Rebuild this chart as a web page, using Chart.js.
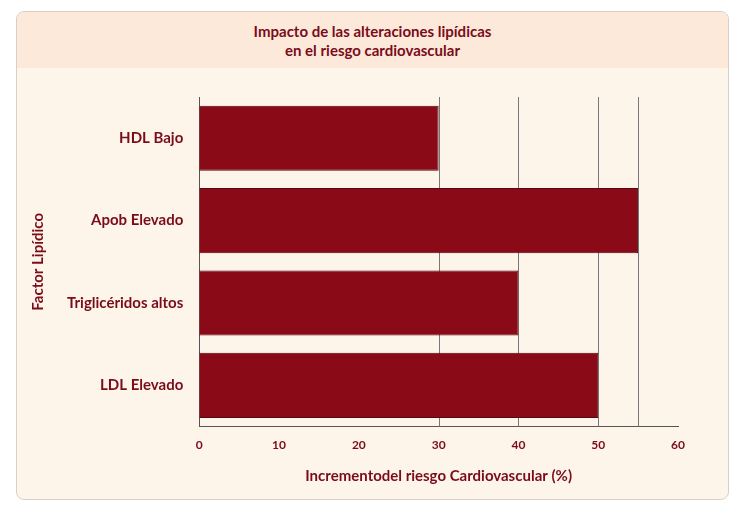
<!DOCTYPE html><html><head><meta charset="utf-8">
<script src="https://cdn.jsdelivr.net/npm/chart.js@4"></script>
<style>
body{margin:0;background:#fff;font-family:Lato,sans-serif}
#card{position:absolute;left:16px;top:11px;width:711px;height:487px;border:1px solid #d8d0c8;border-radius:8px;overflow:hidden;background:#fdf4ea}
#hdr{height:56px;background:#fde9da;color:#7a0c1a;font-weight:bold;font-size:15px;text-align:center;line-height:19px;padding-top:10px;box-sizing:border-box}
#wrap{position:absolute;left:0;top:57px;width:711px;height:430px}
</style></head><body>
<div id="card"><div id="hdr">Impacto de las alteraciones lipídicas<br>en el riesgo cardiovascular</div>
<div id="wrap"><canvas id="c"></canvas></div></div>
<script>
const categories=["HDL Bajo","Apob Elevado","Triglicéridos altos","LDL Elevado"];
const values=[30,55,40,50];
const red="#8b0a17", txt="#7a0c1a";
const gridPlugin={id:'g',beforeDatasetsDraw(ch){const x=ch.scales.x,a=ch.chartArea,c=ch.ctx;c.save();c.strokeStyle='#777';c.lineWidth=1;
values.forEach(v=>{const p=Math.round(x.getPixelForValue(v))+0.5;c.beginPath();c.moveTo(p,a.top);c.lineTo(p,a.bottom);c.stroke();});c.restore();}};
new Chart(document.getElementById('c'),{type:'bar',
data:{labels:categories,datasets:[{data:values,backgroundColor:red,borderColor:'#5a0610',borderWidth:1,barPercentage:0.79,categoryPercentage:1}]},
plugins:[gridPlugin],
options:{indexAxis:'y',responsive:true,maintainAspectRatio:false,animation:false,
layout:{padding:{top:28,right:50,left:8,bottom:10}},
plugins:{legend:{display:false},tooltip:{enabled:false}},
scales:{x:{min:0,max:60,ticks:{stepSize:10,color:txt,font:{family:'Lato',weight:'bold',size:12}},grid:{display:false,drawTicks:true},border:{color:'#555'},
title:{display:true,text:'Incrementodel riesgo Cardiovascular (%)',color:txt,font:{family:'Lato',weight:'bold',size:15},padding:{top:12}}},
y:{ticks:{color:txt,font:{family:'Lato',weight:'bold',size:15},padding:8},grid:{display:false},border:{color:'#555'},
title:{display:true,text:'Factor Lipídico',color:txt,font:{family:'Lato',weight:'bold',size:15},padding:{bottom:12}}}}}});
</script></body></html>
